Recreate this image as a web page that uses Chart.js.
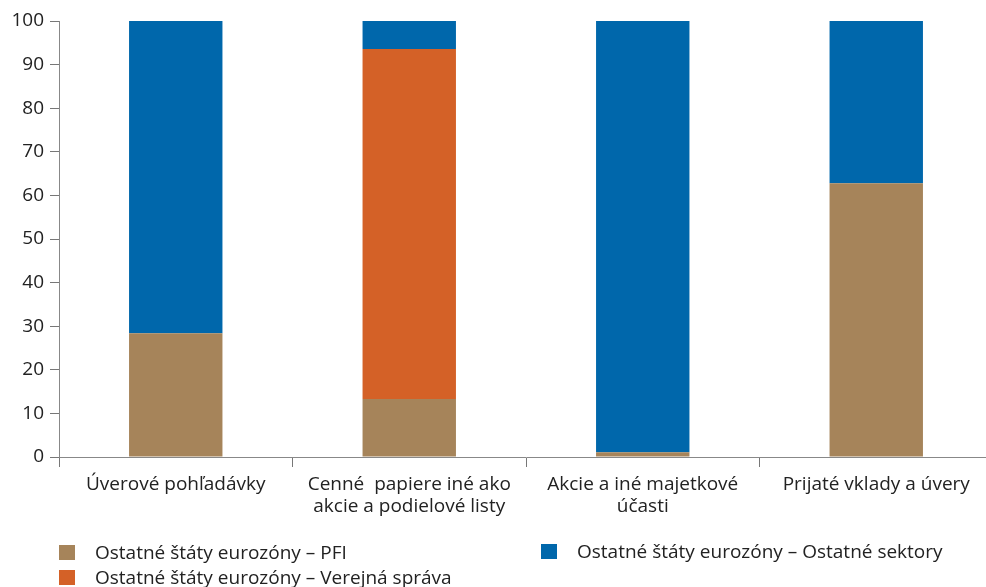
<!DOCTYPE html>
<html><head><meta charset="utf-8">
<script src="https://cdn.jsdelivr.net/npm/chart.js@4"></script>
<style>
html,body{margin:0;padding:0;background:#fff;overflow:hidden;width:986px;height:587px;}
#wrap{position:absolute;left:0;top:0;width:993px;height:525px;}
#legend{position:absolute;left:0;top:0;width:986px;height:587px;pointer-events:none;font-family:"Open Sans","Noto Sans",sans-serif;font-size:19px;color:#222;}
.li{position:absolute;display:flex;align-items:center;white-space:nowrap;}
.sw{width:16px;height:15px;margin-right:20px;}
</style></head><body>
<div id="wrap"><canvas id="c"></canvas></div>
<div id="legend"></div>
<script>
const categories = [["Úverové pohľadávky"], ["Cenné  papiere iné ako","akcie a podielové listy"], ["Akcie a iné majetkové","účasti"], ["Prijaté vklady a úvery"]];
const seriesNames = ["Ostatné štáty eurozóny – PFI", "Ostatné štáty eurozóny – Verejná správa", "Ostatné štáty eurozóny – Ostatné sektory"];
const pfi = [28.4, 13.3, 1.1, 62.8];
const verejna = [0, 80.3, 0, 0];
const ostatne = [71.6, 6.4, 98.9, 37.2];
const colors = ["#A6845A", "#D46127", "#0067AB"];
const yTicks = [0,10,20,30,40,50,60,70,80,90,100];

const font = {family: "'Open Sans', 'Noto Sans', sans-serif", size: 19};
Chart.defaults.font = font;
Chart.defaults.color = "#222";

const seriesData = [pfi, verejna, ostatne];
const datasets = seriesData.map((d,i)=>({label: seriesNames[i], data: d, backgroundColor: colors[i], borderWidth: 0, barPercentage: 0.4, categoryPercentage: 1.0}));

new Chart(document.getElementById('c'), {
  type: 'bar',
  data: {labels: categories, datasets},
  options: {
    responsive: true, maintainAspectRatio: false, animation: false,
    layout: {padding: {top: 21, right: 0, left: 0, bottom: 0}},
    plugins: {legend: {display: false}, tooltip: {enabled: false}},
    scales: {
      x: {
        stacked: true,
        grid: {offset: true, drawOnChartArea: false, drawTicks: true, tickLength: 10, color: "#777", lineWidth: 1},
        border: {color: "#888", width: 1},
        ticks: {padding: 6, color: "#222", font: {size: 19, lineHeight: 1.18}, maxRotation: 0, autoSkip: false},
        afterFit: s => { s.height = 525 - 457; }
      },
      y: {
        stacked: true, min: 0, max: 100,
        afterBuildTicks: s => { s.ticks = yTicks.map(v=>({value:v})); },
        grid: {drawOnChartArea: false, drawTicks: true, tickLength: 9, color: "#777"},
        border: {color: "#888", width: 1},
        ticks: {padding: 6, color: "#222", font: {size: 19}},
        afterFit: s => { s.width = 59; }
      }
    }
  }
});

const leg = document.getElementById('legend');
const pos = [[59,552],[59,577],[541,551]];
seriesNames.forEach((n,i)=>{
  const d = document.createElement('div'); d.className='li';
  d.style.left = pos[i][0]+'px'; d.style.top = (pos[i][1]-12)+'px'; d.style.height='24px';
  d.innerHTML = '<span class="sw" style="background:'+colors[i]+'"></span><span>'+n+'</span>';
  leg.appendChild(d);
});
</script>
</body></html>
